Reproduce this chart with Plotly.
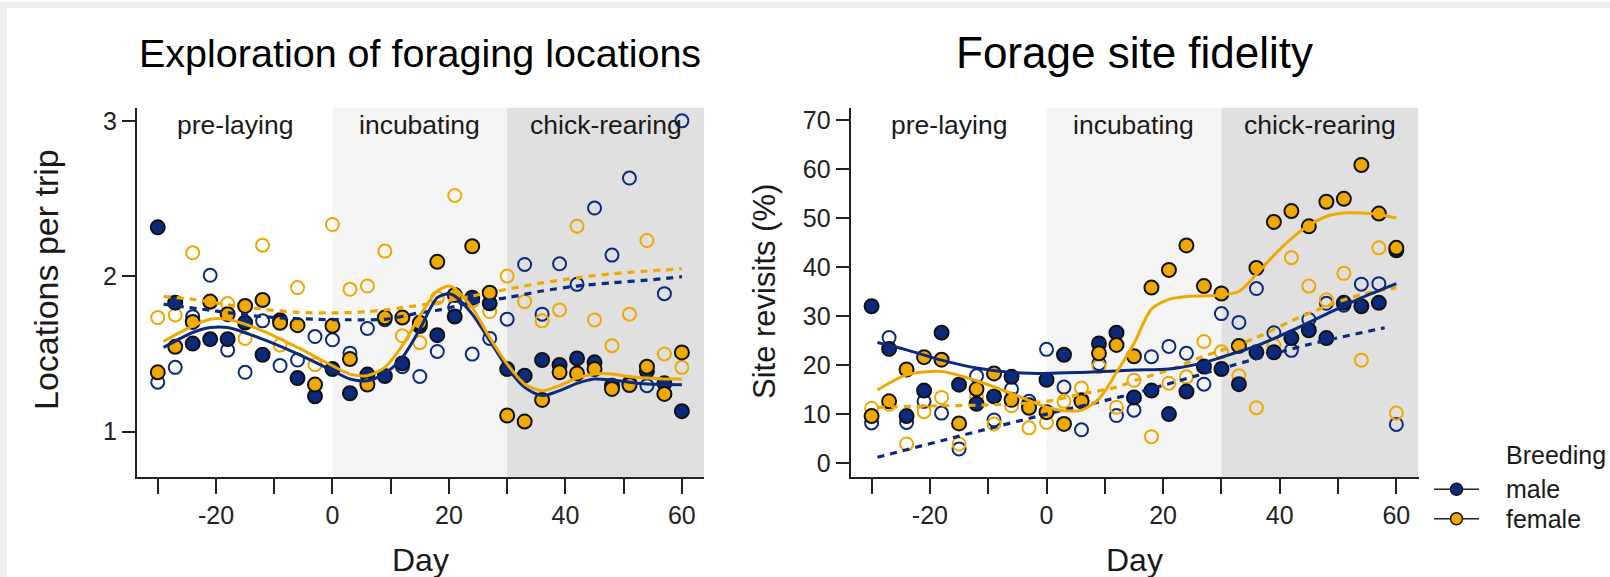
import plotly.graph_objects as go

# ---- sampling days (every 3 days relative to laying) ----
days = list(range(-30, 61, 3))

# ---- Exploration of foraging locations: locations per trip ----
lpt_male_breed = [2.315, 1.83, 1.567, 1.595, 1.595, 1.702, 1.495, 1.717, 1.345, 1.228,
                  1.403, 1.247, 1.367, 1.358, 1.439, 1.68, 1.621, 1.741, 1.862, 1.826,
                  1.403, 1.36, 1.461, 1.429, 1.471, 1.446, 1.296, 1.31, 1.388, 1.311, 1.132]
lpt_female_breed = [1.382, 1.546, 1.706, 1.837, 1.756, 1.809, 1.847, 1.70, 1.685, 1.303,
                    1.681, 1.467, 1.303, 1.734, 1.734, 1.70, 2.093, 1.88, 2.193, 1.894,
                    1.104, 1.065, 1.204, 1.382, 1.375, 1.403, 1.275, 1.30, 1.418, 1.243, 1.51]
lpt_male_non = [1.318, 1.414, 1.74, 2.006, 1.525, 1.382, 1.713, 1.425, 1.461, 1.612,
                1.591, 1.505, 1.664, 1.72, 1.418, 1.355, 1.516, 1.80, 1.499, 1.60,
                1.724, 2.076, 1.756, 2.08, 1.948, 2.439, 2.136, 2.632, 1.296, 1.888, 3.0]
lpt_female_non = [1.734, 1.751, 2.151, 1.83, 1.824, 1.60, 2.20, 1.557, 1.927, 1.431,
                  2.333, 1.916, 1.937, 2.162, 1.617, 1.573, 1.86, 2.52, 1.84, 1.773,
                  2.001, 1.837, 1.713, 1.783, 2.322, 1.719, 1.553, 1.756, 2.23, 1.50, 1.414]

# smoothed fits
lpt_fit_days = [-29, -24, -21, -18, -12, -6, 0, 3, 6, 9, 12, 15, 18, 20, 21, 24, 27,
                30, 33, 36, 39, 42, 45, 48, 51, 54, 57, 60]
lpt_fit_male_breed = [1.542, 1.638, 1.67, 1.67, 1.595, 1.50, 1.392, 1.339, 1.328, 1.375,
                      1.478, 1.66, 1.862, 1.888, 1.873, 1.756, 1.585, 1.414, 1.285, 1.232,
                      1.264, 1.311, 1.339, 1.332, 1.318, 1.307, 1.304, 1.302]
lpt_fit_female_breed = [1.58, 1.68, 1.723, 1.723, 1.649, 1.542, 1.424, 1.37, 1.36, 1.414,
                        1.553, 1.745, 1.905, 1.937, 1.922, 1.798, 1.606, 1.435, 1.307, 1.264,
                        1.296, 1.345, 1.371, 1.371, 1.354, 1.345, 1.339, 1.339]
lpt_nfit_days = [-29, -21, -12, -3, 3, 9, 15, 18, 24, 30, 36, 42, 48, 54, 60]
lpt_fit_male_non = [1.82, 1.781, 1.74, 1.723, 1.72, 1.723, 1.765, 1.781, 1.83, 1.862,
                    1.905, 1.937, 1.958, 1.975, 1.997]
lpt_nfit_days_f = [-29, -24, -18, -12, -6, 0, 6, 12, 18, 24, 30, 36, 42, 48, 54, 60]
lpt_fit_female_non = [1.869, 1.852, 1.816, 1.788, 1.768, 1.764, 1.772, 1.798, 1.83, 1.873,
                      1.916, 1.958, 1.99, 2.016, 2.033, 2.048]

# ---- Forage site fidelity: site revisits (%) ----
sr_male_breed = [32.0, 23.3, 9.6, 14.8, 26.6, 16.0, 12.1, 13.6, 17.6, 11.8,
                 17.0, 22.1, 12.8, 24.4, 26.6, 13.4, 14.8, 10.0, 14.6, 19.7,
                 19.2, 16.1, 22.6, 22.6, 25.5, 27.1, 25.5, 32.7, 32.0, 32.7, 43.4]
sr_female_breed = [9.6, 12.6, 19.1, 21.6, 21.1, 8.1, 15.1, 18.3, 12.9, 11.3,
                   10.4, 8.0, 12.6, 22.4, 24.1, 21.8, 35.8, 39.4, 44.4, 36.1,
                   34.6, 23.9, 39.8, 49.2, 51.4, 48.3, 53.3, 53.9, 60.8, 50.9, 43.9]
sr_male_non = [8.2, 25.6, 8.3, 12.6, 10.2, 2.9, 17.8, 8.8, 15.1, 12.6,
               23.2, 15.5, 6.8, 20.3, 9.7, 10.8, 21.7, 23.8, 22.4, 16.1,
               30.5, 28.7, 35.6, 26.6, 23.0, 29.3, 32.6, 32.2, 36.5, 36.6, 7.9]
sr_female_non = [11.2, 12.0, 3.9, 10.5, 13.4, 3.9, 13.5, 8.0, 11.7, 7.2,
                 8.3, 12.6, 15.3, 19.7, 11.4, 16.9, 5.4, 16.3, 17.6, 24.8,
                 22.7, 17.8, 11.3, 24.0, 41.9, 36.1, 33.3, 38.7, 21.0, 43.9, 10.2]

sr_fit_days_m = [-29, -24, -18, -12, -6, 0, 6, 12, 15, 21, 27, 30, 36, 42, 48, 54, 60]
sr_fit_male_breed = [24.6, 23.1, 21.0, 19.4, 18.5, 18.3, 18.5, 18.8, 19.0, 19.2, 20.5,
                     21.6, 23.9, 27.0, 30.4, 33.7, 36.6]
sr_fit_days_f = [-29, -24, -18, -12, -6, 0, 3, 6, 9, 12, 15, 18, 21, 24, 27, 30, 33,
                 36, 39, 42, 45, 48, 51, 54, 57, 60]
sr_fit_female_breed = [14.9, 18.0, 18.7, 16.8, 14.2, 11.4, 10.7, 10.8, 13.1, 18.5, 24.4,
                       31.4, 33.4, 34.0, 34.1, 34.3, 35.0, 38.5, 42.4, 45.8, 48.5, 50.3,
                       51.0, 51.0, 50.7, 50.0]
sr_nfit_days_m = [-29, -15, 0, 15, 30, 45, 58]
sr_fit_male_non = [1.2, 5.5, 10.0, 14.2, 19.3, 24.2, 27.6]
sr_nfit_days_f = [-29, -18, -9, 0, 6, 12, 15, 21, 27, 30, 36, 42, 48, 54, 60]
sr_fit_female_non = [11.4, 11.7, 11.9, 12.6, 14.1, 15.5, 16.8, 19.0, 21.8, 23.0, 25.6,
                     29.0, 32.0, 34.4, 35.8]

# ---- breeding stages ----
stage_names = ["pre-laying", "incubating", "chick-rearing"]
stage_starts = [-33.6, 0, 30]
stage_ends = [0, 30, 63.8]
stage_fills = ["rgba(0,0,0,0)", "#f5f5f5", "#e0e0e0"]

# ---- legend ----
legend_title = "Breeding"
legend_names = ["male", "female"]

NAVY = "#0b2a7e"
ORANGE = "#f0a900"
INK = "#1a1a1a"
FONT = "Liberation Sans, Arial, sans-serif"

W, H = 1610, 577
X_RANGE = [-33.6, 63.8]
Y_DOM = [1 - 477 / H, 1 - 106 / H]

panels = [
    dict(xa="x", ya="y", dom=[136.8 / W, 704 / W], yrange=[0.706, 3.085], yticks=[1, 2, 3],
         title="Exploration of foraging locations", title_size=39.5,
         ytitle="Locations per trip", ytitle_x=46, ytitle_y=279, ytitle_size=34,
         pts=[lpt_male_non, lpt_female_non, lpt_male_breed, lpt_female_breed],
         fits=[(lpt_nfit_days, lpt_fit_male_non, NAVY, True),
               (lpt_nfit_days_f, lpt_fit_female_non, ORANGE, True),
               (lpt_fit_days, lpt_fit_male_breed, NAVY, False),
               (lpt_fit_days, lpt_fit_female_breed, ORANGE, False)]),
    dict(xa="x2", ya="y2", dom=[850.6 / W, 1418.5 / W], yrange=[-2.9, 72.5],
         yticks=list(range(0, 71, 10)),
         title="Forage site fidelity", title_size=44,
         ytitle="Site revisits (%)", ytitle_x=765, ytitle_y=291, ytitle_size=31,
         pts=[sr_male_non, sr_female_non, sr_male_breed, sr_female_breed],
         fits=[(sr_nfit_days_m, sr_fit_male_non, NAVY, True),
               (sr_nfit_days_f, sr_fit_female_non, ORANGE, True),
               (sr_fit_days_m, sr_fit_male_breed, NAVY, False),
               (sr_fit_days_f, sr_fit_female_breed, ORANGE, False)]),
]

fig = go.Figure()
shapes, annotations = [], []


def text(x, y, s, size, **kw):
    d = dict(xref="paper", yref="paper", x=x, y=y, text=s, showarrow=False,
             xanchor="center", yanchor="middle",
             font=dict(size=size, color=INK, family=FONT))
    d.update(kw)
    annotations.append(d)


for p in panels:
    xa, ya = p["xa"], p["ya"]
    open_m, open_f, fill_m, fill_f = p["pts"]
    # non-breeding birds: open circles
    for vals, col in [(open_m, NAVY), (open_f, ORANGE)]:
        fig.add_trace(go.Scatter(x=days, y=vals, xaxis=xa, yaxis=ya, mode="markers",
                                 marker=dict(symbol="circle-open", size=13, color=col,
                                             line=dict(width=2, color=col)),
                                 showlegend=False, hoverinfo="skip"))
    # breeding birds: filled circles
    for vals, col in [(fill_m, NAVY), (fill_f, ORANGE)]:
        fig.add_trace(go.Scatter(x=days, y=vals, xaxis=xa, yaxis=ya, mode="markers",
                                 marker=dict(symbol="circle", size=14, color=col,
                                             line=dict(width=2, color="#111111")),
                                 showlegend=False, hoverinfo="skip"))
    # smoothed trends
    for fx, fy, col, dashed in p["fits"]:
        fig.add_trace(go.Scatter(x=fx, y=fy, xaxis=xa, yaxis=ya, mode="lines",
                                 line=dict(color=col, width=3.2 if dashed else 3,
                                           shape="spline", smoothing=0.8,
                                           dash="7px,6px" if dashed else "solid"),
                                 showlegend=False, hoverinfo="skip"))
    # stage shading and labels
    for name, s0, s1, fc in zip(stage_names, stage_starts, stage_ends, stage_fills):
        shapes.append(dict(type="rect", xref=xa, yref=ya + " domain", x0=s0, x1=s1,
                           y0=0, y1=1, fillcolor=fc, line=dict(width=0), layer="below"))
        annotations.append(dict(xref=xa, yref="paper", x=(s0 + s1) / 2, y=1 - 123 / H,
                                text=name, showarrow=False, xanchor="center",
                                yanchor="middle",
                                font=dict(size=26.5, color=INK, family=FONT)))
    cx = (p["dom"][0] + p["dom"][1]) / 2
    text(cx, 1 - 51 / H, p["title"], p["title_size"], font=dict(
        size=p["title_size"], color="#000000", family=FONT))
    text(cx, 1 - 560 / H, "Day", 32)
    text(p["ytitle_x"] / W, 1 - p["ytitle_y"] / H, p["ytitle"], p["ytitle_size"],
         textangle=-90)

# legend keys drawn on an overlay axis measured in pixels
key_rows = [489, 518.5]
for name, col, ky in zip(legend_names, [NAVY, ORANGE], key_rows):
    fig.add_trace(go.Scatter(x=[1434, 1479], y=[ky, ky], xaxis="x3", yaxis="y3",
                             mode="lines", line=dict(color="#222222", width=1.5),
                             showlegend=False, hoverinfo="skip"))
    fig.add_trace(go.Scatter(x=[1456.5], y=[ky], xaxis="x3", yaxis="y3", mode="markers",
                             marker=dict(size=12, color=col,
                                         line=dict(width=1.5, color="#111111")),
                             showlegend=False, hoverinfo="skip"))
    text(1504 / W, 1 - ky / H, name, 25, xanchor="left")
text(1504 / W, 1 - 455 / H, legend_title, 25, xanchor="left")

# outer frame strip along top and left
shapes.append(dict(type="rect", xref="paper", yref="paper", x0=0, x1=1, y0=1 - 6 / H, y1=1,
                   fillcolor="#f0f0f0", line=dict(width=0), layer="below"))
shapes.append(dict(type="rect", xref="paper", yref="paper", x0=0, x1=7 / W, y0=0, y1=1,
                   fillcolor="#f0f0f0", line=dict(width=0), layer="below"))

xtick_vals = list(range(-30, 61, 10))
xtick_text = [str(v) if v % 20 == 0 else "" for v in xtick_vals]

axis_common = dict(showgrid=False, zeroline=False, showline=True, linecolor="#222222",
                   linewidth=2, ticks="outside", tickcolor="#222222", tickwidth=2,
                   tickfont=dict(size=25, color="#222222", family=FONT))

layout = dict(width=W, height=H, margin=dict(l=0, r=0, t=0, b=0),
              paper_bgcolor="white", plot_bgcolor="rgba(0,0,0,0)",
              shapes=shapes, annotations=annotations, showlegend=False)
for i, p in enumerate(panels):
    sfx = "" if i == 0 else str(i + 1)
    layout["xaxis" + sfx] = dict(axis_common, domain=p["dom"], range=X_RANGE,
                                 tickvals=xtick_vals, ticktext=xtick_text, ticklen=15,
                                 anchor="y" + sfx)
    layout["yaxis" + sfx] = dict(axis_common, domain=Y_DOM, range=p["yrange"],
                                 tickvals=p["yticks"], ticklen=13, anchor="x" + sfx)
layout["xaxis3"] = dict(domain=[0, 1], range=[0, W], visible=False, anchor="y3",
                        fixedrange=True)
layout["yaxis3"] = dict(domain=[0, 1], range=[H, 0], visible=False, anchor="x3",
                        fixedrange=True)

fig.update_layout(**layout)
fig.write_html("out.html")
